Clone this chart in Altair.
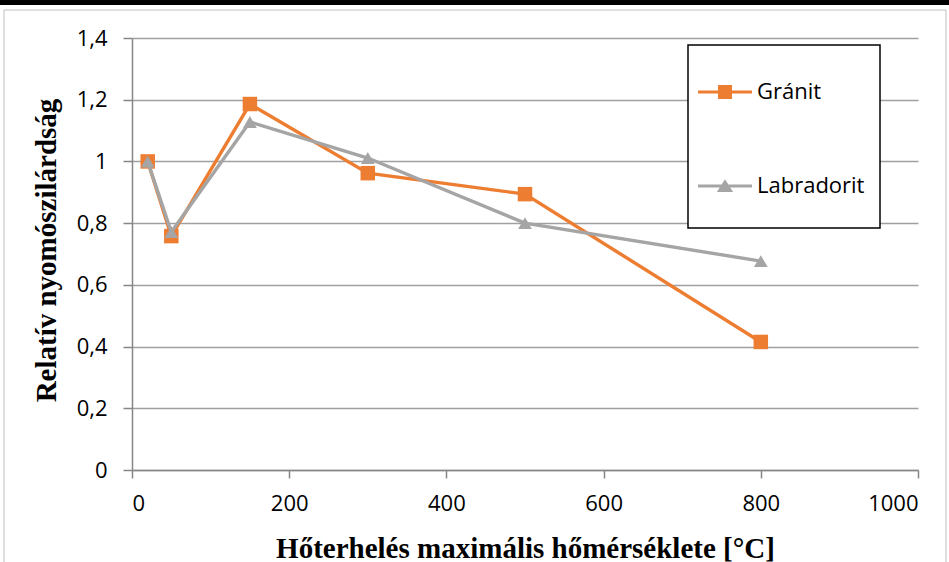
import altair as alt
import pandas as pd

series = ["Gránit", "Labradorit"]
temps = [20, 50, 150, 300, 500, 800]
granit = [1.0, 0.758, 1.186, 0.962, 0.894, 0.415]
labradorit = [1.0, 0.771, 1.128, 1.011, 0.80, 0.677]
x_ticks = [0, 200, 400, 600, 800, 1000]
y_ticks = [0, 0.2, 0.4, 0.6, 0.8, 1.0, 1.2, 1.4]
colors = ["#ED7D31", "#A5A5A5"]

rows = []
for s, vals in zip(series, [granit, labradorit]):
    for t, v in zip(temps, vals):
        rows.append({"series": s, "temp": t, "val": v})
df = pd.DataFrame(rows)

W, H = 786, 432
PL, PT = 132, 38

xenc = alt.X("temp:Q", scale=alt.Scale(domain=[0, 1000], nice=False),
             axis=alt.Axis(values=x_ticks, grid=False, tickSize=8, tickColor="#868686",
                           domainColor="#868686", domainWidth=1.5, tickWidth=1.5,
                           labelFont="Open Sans", labelFontSize=22,
                           labelColor="#000000", labelPadding=15,
                           labelExpr="format(datum.value, 'd')",
                           title="Hőterhelés maximális hőmérséklete [°C]",
                           titleFont="Liberation Serif", titleFontSize=29,
                           titleFontWeight="bold", titleColor="#000000",
                           titleY=78, titleBaseline="middle"))
yenc = alt.Y("val:Q", scale=alt.Scale(domain=[0, 1.4], nice=False),
             axis=alt.Axis(values=y_ticks, grid=True, gridColor="#A0A0A0", gridWidth=1.5,
                           tickSize=9, tickColor="#868686", tickWidth=1.5,
                           domainColor="#868686", domainWidth=1.5,
                           labelFont="Open Sans", labelFontSize=22,
                           labelColor="#000000", labelPadding=16,
                           labelExpr="replace(format(datum.value, '.1~f'), '.', ',')",
                           title="Relatív nyomószilárdság",
                           titleFont="Liberation Serif", titleFontSize=29,
                           titleFontWeight="bold", titleColor="#000000",
                           titleX=-86, titleY=212, titleBaseline="middle"))
cscale = alt.Scale(domain=series, range=colors)

one = alt.Data(values=[{"a": 1}])
frame = alt.Chart(one).mark_rect(
    fill=None, fillOpacity=0, stroke="#BFBFBF", strokeWidth=1
).encode(x=alt.value(4 - PL), x2=alt.value(946 - PL), y=alt.value(10 - PT), y2=alt.value(600 - PT))
bar = alt.Chart(one).mark_rect(fill="black").encode(
    x=alt.value(-PL), x2=alt.value(949 - PL), y=alt.value(-PT), y2=alt.value(5 - PT))
legbox = alt.Chart(one).mark_rect(fill="white", stroke="black", strokeWidth=1.5).encode(
    x=alt.value(688 - PL), x2=alt.value(880 - PL), y=alt.value(45 - PT), y2=alt.value(228 - PT))

base = alt.Chart(df)
layers = []
shapes = ["square", "triangle-up"]
sizes = [210, 190]
for s, col, shp, sz in zip(series, colors, shapes, sizes):
    sub = base.transform_filter(alt.datum.series == s)
    layers.append(sub.mark_line(strokeWidth=3.4, color=col).encode(x=xenc, y=yenc))
    layers.append(sub.mark_point(filled=True, opacity=1, shape=shp, size=sz, color=col).encode(
        x="temp:Q", y="val:Q"))

legend_paths = [
    "M-1,-0.06H1V0.06H-1Z M-0.26,-0.26H0.26V0.26H-0.26Z",
    "M-1,-0.06H1V0.06H-1Z M0,-0.25L0.3,0.22H-0.3Z",
]
leg = base.transform_filter("datum.temp < 0").mark_point(filled=True, opacity=1).encode(
    x="temp:Q", y="val:Q",
    color=alt.Color("series:N", scale=cscale, legend=alt.Legend(
        title=None, orient="none", legendX=556, legendY=17, zindex=2,
        padding=10,
        symbolSize=2916, symbolStrokeWidth=0, symbolOpacity=1,
        labelFont="Open Sans", labelFontSize=22, labelColor="#000000",
        labelOffset=5, rowPadding=56)),
    shape=alt.Shape("series:N", scale=alt.Scale(domain=series, range=legend_paths)),
)
layers += [legbox, leg, frame, bar]

chart = alt.layer(*layers).properties(
    width=W, height=H,
    autosize=alt.AutoSizeParams(type="none"),
    padding={"left": PL, "top": PT, "right": 949 - PL - W, "bottom": 562 - PT - H},
    background="white",
).configure_view(stroke=None)

chart.save("out.html", embed_options={"renderer": "svg", "actions": False})
